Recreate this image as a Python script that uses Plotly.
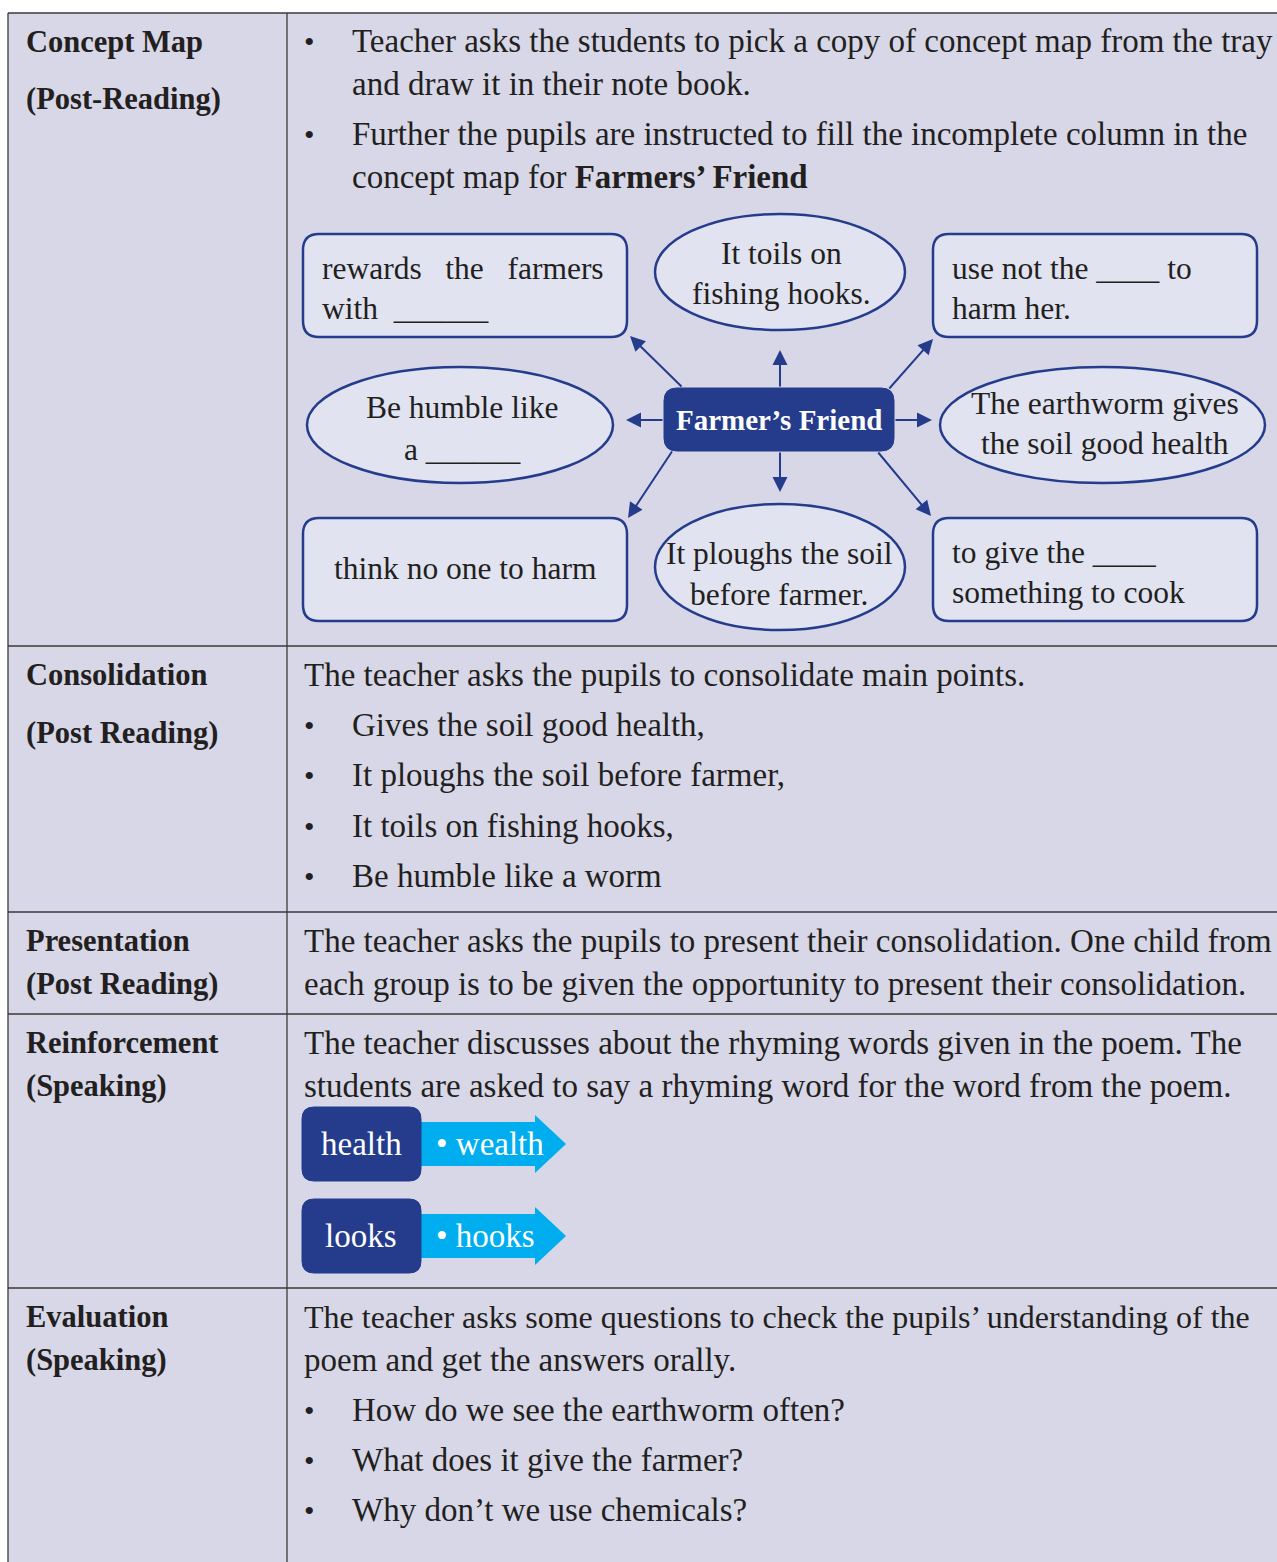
import plotly.graph_objects as go

# ---------------- content ----------------
row_labels = [
    ["Concept Map", "(Post-Reading)"],
    ["Consolidation", "(Post Reading)"],
    ["Presentation", "(Post Reading)"],
    ["Reinforcement", "(Speaking)"],
    ["Evaluation", "(Speaking)"],
]
concept_intro = [
    ("•", "Teacher asks the students to pick a copy of concept map from the tray"),
    ("", "and draw it in their note book."),
    ("•", "Further the pupils are instructed to fill the incomplete column in the"),
    ("", "concept map for <b>Farmers’ Friend</b>"),
]
center_label = "Farmer’s Friend"
map_boxes = [  # text lines for each node
    ["rewards&#160;&#160;&#160;the&#160;&#160;&#160;farmers", "with&#160;&#160;______"],
    ["It toils on", "fishing hooks."],
    ["use not the ____ to", "harm her."],
    ["Be humble like", "a ______"],
    ["The earthworm gives", "the soil good health"],
    ["think no one to harm"],
    ["It ploughs the soil", "before farmer."],
    ["to give the ____", "something to cook"],
]
consolidation_intro = "The teacher asks the pupils to consolidate main points."
consolidation_points = [
    "Gives the soil good health,",
    "It ploughs the soil before farmer,",
    "It toils on fishing hooks,",
    "Be humble like a worm",
]
presentation_text = [
    "The teacher asks the pupils to present their consolidation. One child from",
    "each group is to be given the opportunity to present their consolidation.",
]
reinforcement_text = [
    "The teacher discusses about the rhyming words given in the poem. The",
    "students are asked to say a rhyming word for the word from the poem.",
]
rhyme_words = ["health", "looks"]
rhyme_answers = ["wealth", "hooks"]
evaluation_text = [
    "The teacher asks some questions to check the pupils’ understanding of the",
    "poem and get the answers orally.",
]
evaluation_questions = [
    "How do we see the earthworm often?",
    "What does it give the farmer?",
    "Why don’t we use chemicals?",
]

# ---------------- styles ----------------
W, H = 1277, 1562
FONT = "Liberation Serif"
TXT = "#231F20"
BG = "#D7D7E7"
BOXFILL = "#E1E3F1"
NAVY = "#253C8C"
CYAN = "#00AEEF"
GRID = "#3A3A3A"
FS = 33
FS_LABEL = 30.5
FS_MAP = 31.5
FS_BULLET = 30

shapes = []
annotations = []


def text(x, y, s, size=FS, color=TXT, anchor="left", bold=False):
    if bold:
        s = "<b>" + s + "</b>"
    annotations.append(dict(x=x, y=y, xref="x", yref="y", text=s, showarrow=False,
                            xanchor=anchor, yanchor="middle",
                            font=dict(family=FONT, size=size, color=color)))


def rrect(x0, y0, x1, y1, r, fill, line, lw):
    p = (f"M {x0+r},{y0} L {x1-r},{y0} Q {x1},{y0} {x1},{y0+r} L {x1},{y1-r} "
         f"Q {x1},{y1} {x1-r},{y1} L {x0+r},{y1} Q {x0},{y1} {x0},{y1-r} "
         f"L {x0},{y0+r} Q {x0},{y0} {x0+r},{y0} Z")
    shapes.append(dict(type="path", path=p, xref="x", yref="y", fillcolor=fill,
                       line=dict(color=line, width=lw), layer="above"))


def ellipse(x0, y0, x1, y1):
    shapes.append(dict(type="circle", x0=x0, x1=x1, y0=y0, y1=y1, xref="x", yref="y",
                       fillcolor=BOXFILL, line=dict(color=NAVY, width=2.5), layer="above"))


def arrow(x0, y0, x1, y1):
    annotations.append(dict(x=x1, y=y1, ax=x0, ay=y0, xref="x", yref="y", axref="x", ayref="y",
                            text="", showarrow=True, arrowhead=2, arrowsize=1.5,
                            arrowwidth=2, arrowcolor=NAVY))


# table background and grid
shapes.append(dict(type="rect", x0=8, x1=W + 30, y0=13, y1=H + 30, xref="x", yref="y",
                   fillcolor=BG, line=dict(width=0), layer="below"))
row_tops = [13, 646, 912, 1014, 1288]
for yy in row_tops:
    shapes.append(dict(type="line", x0=8, x1=W + 30, y0=yy, y1=yy, xref="x", yref="y",
                       line=dict(color=GRID, width=1.3)))
for xx in [8, 287]:
    shapes.append(dict(type="line", x0=xx, x1=xx, y0=13, y1=H + 30, xref="x", yref="y",
                       line=dict(color=GRID, width=1.3)))

# left column labels
label_ys = [(42, 99), (675, 733), (941, 984), (1043, 1086), (1317, 1360)]
for (a, b), (ya, yb) in zip(row_labels, label_ys):
    text(24, ya, a, size=FS_LABEL, bold=True)
    text(24, yb, b, size=FS_LABEL, bold=True)

# row 1 intro
for (bul, s), yy in zip(concept_intro, [41, 84, 134, 177]):
    if bul:
        text(302, yy, bul, size=FS_BULLET)
    text(350, yy, s)

# concept map nodes
rrect(303, 234, 627, 337, 16, BOXFILL, NAVY, 2.5)
rrect(933, 234, 1257, 337, 16, BOXFILL, NAVY, 2.5)
rrect(303, 518, 627, 621, 16, BOXFILL, NAVY, 2.5)
rrect(933, 518, 1257, 621, 16, BOXFILL, NAVY, 2.5)
ellipse(655, 214, 905, 330)
ellipse(307, 367, 613, 483)
ellipse(940, 367, 1265, 483)
ellipse(655, 504, 905, 630)
rrect(664, 388, 894, 451, 13, NAVY, NAVY, 1)

node_pos = [
    ("left", 320, [268, 308]),
    ("center", 781, [253, 293]),
    ("left", 950, [268, 308]),
    ("center", 462, [407, 449]),
    ("center", 1105, [403, 443]),
    ("center", 465, [568]),
    ("center", 779, [553, 594]),
    ("left", 950, [552, 592]),
]
for lines, (anc, x, ys) in zip(map_boxes, node_pos):
    for s, yy in zip(lines, ys):
        text(x, yy, s, size=FS_MAP, anchor=anc)
text(779, 420, center_label, size=29, color="white", anchor="center", bold=True)

# arrows from the centre node
arrow(780, 388, 780, 350)
arrow(780, 451, 780, 492)
arrow(664, 420, 626, 420)
arrow(894, 420, 932, 420)
arrow(683, 388, 630, 336)
arrow(888, 390, 933, 339)
arrow(673, 450, 628, 518)
arrow(877, 451, 931, 516)

# row 2
text(302, 675, consolidation_intro)
for s, yy in zip(consolidation_points, [725, 775, 826, 876]):
    text(302, yy, "•", size=FS_BULLET)
    text(350, yy, s)

# row 3
for s, yy in zip(presentation_text, [941, 984]):
    text(302, yy, s)

# row 4
for s, yy in zip(reinforcement_text, [1043, 1086]):
    text(302, yy, s)
for i, (w, a) in enumerate(zip(rhyme_words, rhyme_answers)):
    top = 1107 + i * 92
    cy = top + 37
    # cyan arrow
    p = (f"M 415,{cy-22} L 535,{cy-22} L 535,{cy-29} L 566,{cy} L 535,{cy+29} "
         f"L 535,{cy+22} L 415,{cy+22} Z")
    shapes.append(dict(type="path", path=p, xref="x", yref="y", fillcolor=CYAN,
                       line=dict(width=0), layer="above"))
    rrect(302, top, 421, top + 74, 12, NAVY, NAVY, 1)
    text(361, cy, w, color="white", anchor="center")
    text(434, cy, "• " + a, color="white")

# row 5
eval_sizes = [32, FS]
for s, yy, fs in zip(evaluation_text, [1317, 1360], eval_sizes):
    text(302, yy, s, size=fs)
for s, yy in zip(evaluation_questions, [1410, 1460, 1510]):
    text(302, yy, "•", size=FS_BULLET)
    text(350, yy, s)

fig = go.Figure()
fig.update_layout(
    width=W, height=H, margin=dict(l=0, r=0, t=0, b=0),
    paper_bgcolor="white", plot_bgcolor="white",
    xaxis=dict(range=[0, W], visible=False, fixedrange=True),
    yaxis=dict(range=[H, 0], visible=False, fixedrange=True),
    shapes=shapes, annotations=annotations, showlegend=False,
)
fig.write_html(
    "out.html",
    config={"displayModeBar": False},
    post_script="document.body.style.margin='0';document.body.style.overflow='hidden';",
)
